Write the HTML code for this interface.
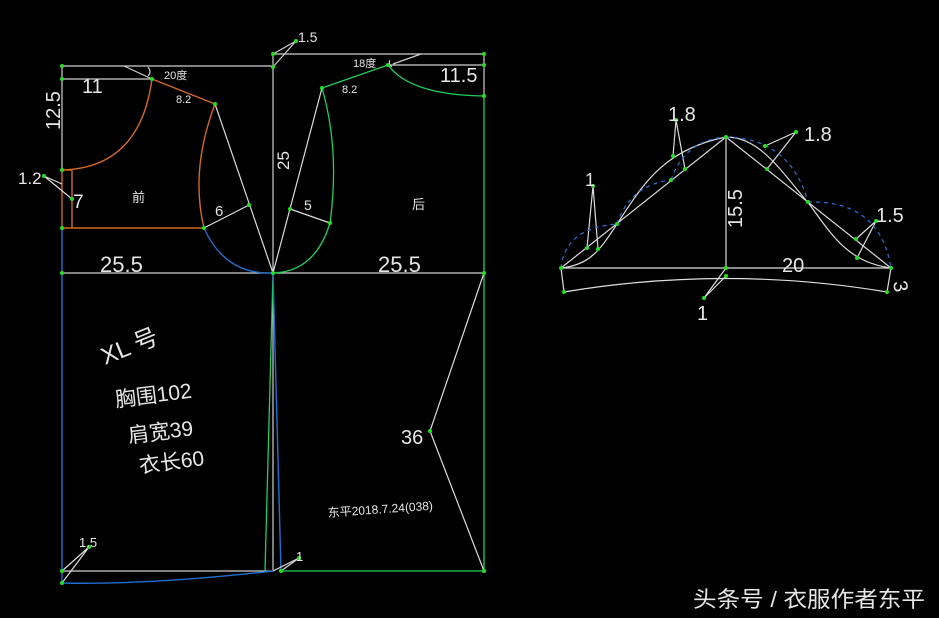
<!DOCTYPE html>
<html><head><meta charset="utf-8"><style>
html,body{margin:0;padding:0;background:#000;}
svg{display:block;}
text{font-family:"Liberation Sans","Noto Sans CJK SC",sans-serif;fill:#e6e6e6;}
</style></head><body>
<svg width="939" height="618" viewBox="0 0 939 618" xmlns="http://www.w3.org/2000/svg">
<rect width="939" height="618" fill="#000"/>
<g fill="none" stroke-width="1.2">
<path d="M62 66 H273 M62 66 V170 M62 79 H152 M273 54 H484 M273 54 V570 M388 65 H484 M484 54 V96 M62 273 H484 M62 571 H273" stroke="#cfcfcf"/>
<path d="M124 66 L152 79 M393 64 L421 54 M148 67 Q152 72 148 76 M390 60 Q388 64 392 67" stroke="#cfcfcf"/>
<path d="M273 54 L296 41 L273 67" stroke="#cfcfcf"/>
<path d="M152 79 Q140 168 62 170 M152 79 L215 104 M215 104 Q190 170 204 228 M62 170 V228 H204 M72 170 V228 M62 170 H72" stroke="#d2691e" stroke-width="1.4"/>
<path d="M204 228 Q225 275 273 273" stroke="#1e6fd0" stroke-width="1.4"/>
<path d="M215 104 L273 273 M204 228 L249 205 M44 176 L62 184 M44 176 L72 199" stroke="#dcdcdc"/>
<path d="M322 88 L388 65 M388 65 Q410 95 484 96 M484 96 V571 M281 571 H484 M322 88 Q340 150 330 223 Q315 272 273 273 M273 273 L265 571" stroke="#1fcf5a" stroke-width="1.3"/>
<path d="M322 88 L273 273 M290 209 L330 223 M484 273 L430 431 L484 571" stroke="#dcdcdc"/>
<path d="M62 228 V583 M62 583 Q150 585 273 571 M273 273 L281 571" stroke="#1e6fd0" stroke-width="1.4"/>
<path d="M89 547 L62 571 M89 547 L62 583 M299 558 L273 571 M299 558 L281 571" stroke="#dcdcdc"/>
<g stroke="#dcdcdc">
<path d="M561 268 H891 M726 137 V268 M561 268 L726 137 L891 268 M561 268 L564 292 M891 268 L887 292 M564 292 Q726 265 887 292"/>
<path d="M561 268 C590 265 600 250 617 224 C640 190 660 150 726 137 C760 137 780 170 810 205 C835 240 850 262 891 268"/>
<path d="M593 186 L587 248 M593 186 L598 249 M676 120 L673 156 M676 120 L685 169 M796 132 L765 146 M796 132 L767 169 M876 221 L856 239 M876 221 L857 258 M726 268 L704 298 M726 276 L704 298"/>
</g>
<g stroke="#2a6fd6" stroke-dasharray="4 4">
<path d="M561 268 Q565 228 617 224 M617 224 Q630 185 671 180 M671 180 Q685 140 726 137 M726 137 Q790 138 808 202 M808 202 Q880 200 891 268"/>
</g>
</g>
<g fill="#22e022">
<circle cx="62" cy="66" r="2"/><circle cx="62" cy="79" r="2"/><circle cx="152" cy="79" r="2"/><circle cx="215" cy="104" r="2"/><circle cx="62" cy="170" r="2"/><circle cx="62" cy="228" r="2"/><circle cx="204" cy="228" r="2"/><circle cx="249" cy="205" r="2"/><circle cx="273" cy="273" r="2"/><circle cx="273" cy="54" r="2"/><circle cx="273" cy="67" r="2"/><circle cx="296" cy="41" r="2"/><circle cx="322" cy="88" r="2"/><circle cx="388" cy="65" r="2"/><circle cx="484" cy="54" r="2"/><circle cx="484" cy="65" r="2"/><circle cx="484" cy="96" r="2"/><circle cx="484" cy="273" r="2"/><circle cx="62" cy="273" r="2"/><circle cx="290" cy="209" r="2"/><circle cx="330" cy="223" r="2"/><circle cx="430" cy="431" r="2"/><circle cx="484" cy="571" r="2"/><circle cx="62" cy="571" r="2"/><circle cx="62" cy="583" r="2"/><circle cx="89" cy="547" r="2"/><circle cx="281" cy="571" r="2"/><circle cx="299" cy="558" r="2"/><circle cx="44" cy="176" r="2"/><circle cx="72" cy="199" r="2"/>
<circle cx="561" cy="268" r="2"/><circle cx="891" cy="268" r="2"/><circle cx="726" cy="137" r="2"/><circle cx="726" cy="268" r="2"/><circle cx="726" cy="276" r="2"/><circle cx="564" cy="292" r="2"/><circle cx="887" cy="292" r="2"/><circle cx="617" cy="224" r="2"/><circle cx="671" cy="180" r="2"/><circle cx="808" cy="202" r="2"/><circle cx="593" cy="186" r="2"/><circle cx="676" cy="120" r="2"/><circle cx="796" cy="132" r="2"/><circle cx="876" cy="221" r="2"/><circle cx="704" cy="298" r="2"/><circle cx="587" cy="248" r="2"/><circle cx="598" cy="249" r="2"/><circle cx="673" cy="156" r="2"/><circle cx="685" cy="169" r="2"/><circle cx="765" cy="146" r="2"/><circle cx="767" cy="169" r="2"/><circle cx="856" cy="239" r="2"/><circle cx="857" cy="258" r="2"/>
</g>
<g>
<text x="298" y="42" font-size="14">1.5</text>
<text x="82" y="93" font-size="20">11</text>
<text x="60" y="130" font-size="20" transform="rotate(-90 60 130)">12.5</text>
<text x="164" y="79" font-size="11">20度</text>
<text x="176" y="103" font-size="11">8.2</text>
<text x="353" y="67" font-size="11">18度</text>
<text x="342" y="93" font-size="11">8.2</text>
<text x="440" y="82" font-size="20">11.5</text>
<text x="18" y="184" font-size="17">1.2</text>
<text x="73" y="208" font-size="19">7</text>
<text x="132" y="202" font-size="13">前</text>
<text x="412" y="209" font-size="13">后</text>
<text x="215" y="216" font-size="15">6</text>
<text x="304" y="210" font-size="14">5</text>
<text x="289" y="170" font-size="17" transform="rotate(-90 289 170)">25</text>
<text x="100" y="272" font-size="22">25.5</text>
<text x="378" y="272" font-size="22">25.5</text>
<text x="0" y="0" font-size="24" transform="translate(105 365) rotate(-22)">XL 号</text>
<text x="0" y="0" font-size="21" transform="translate(116 407) rotate(-7)">胸围102</text>
<text x="0" y="0" font-size="21" transform="translate(129 443) rotate(-7)">肩宽39</text>
<text x="0" y="0" font-size="21" transform="translate(140 473) rotate(-7)">衣长60</text>
<text x="401" y="444" font-size="20">36</text>
<text x="0" y="0" font-size="12" transform="translate(328 517) rotate(-4)">东平2018.7.24(038)</text>
<text x="79" y="547" font-size="13">1.5</text>
<text x="296" y="561" font-size="13">1</text>
<text x="668" y="121" font-size="20">1.8</text>
<text x="804" y="141" font-size="20">1.8</text>
<text x="585" y="186" font-size="18">1</text>
<text x="876" y="222" font-size="20">1.5</text>
<text x="742" y="228" font-size="20" transform="rotate(-90 742 228)">15.5</text>
<text x="782" y="272" font-size="20">20</text>
<text x="0" y="0" font-size="20" transform="translate(893 282) rotate(80)">3</text>
<text x="697" y="320" font-size="20">1</text>
<text x="693" y="607" font-size="22" fill="#dcdcdc" textLength="232" lengthAdjust="spacingAndGlyphs">头条号 / 衣服作者东平</text>
</g>
</svg>
</body></html>
